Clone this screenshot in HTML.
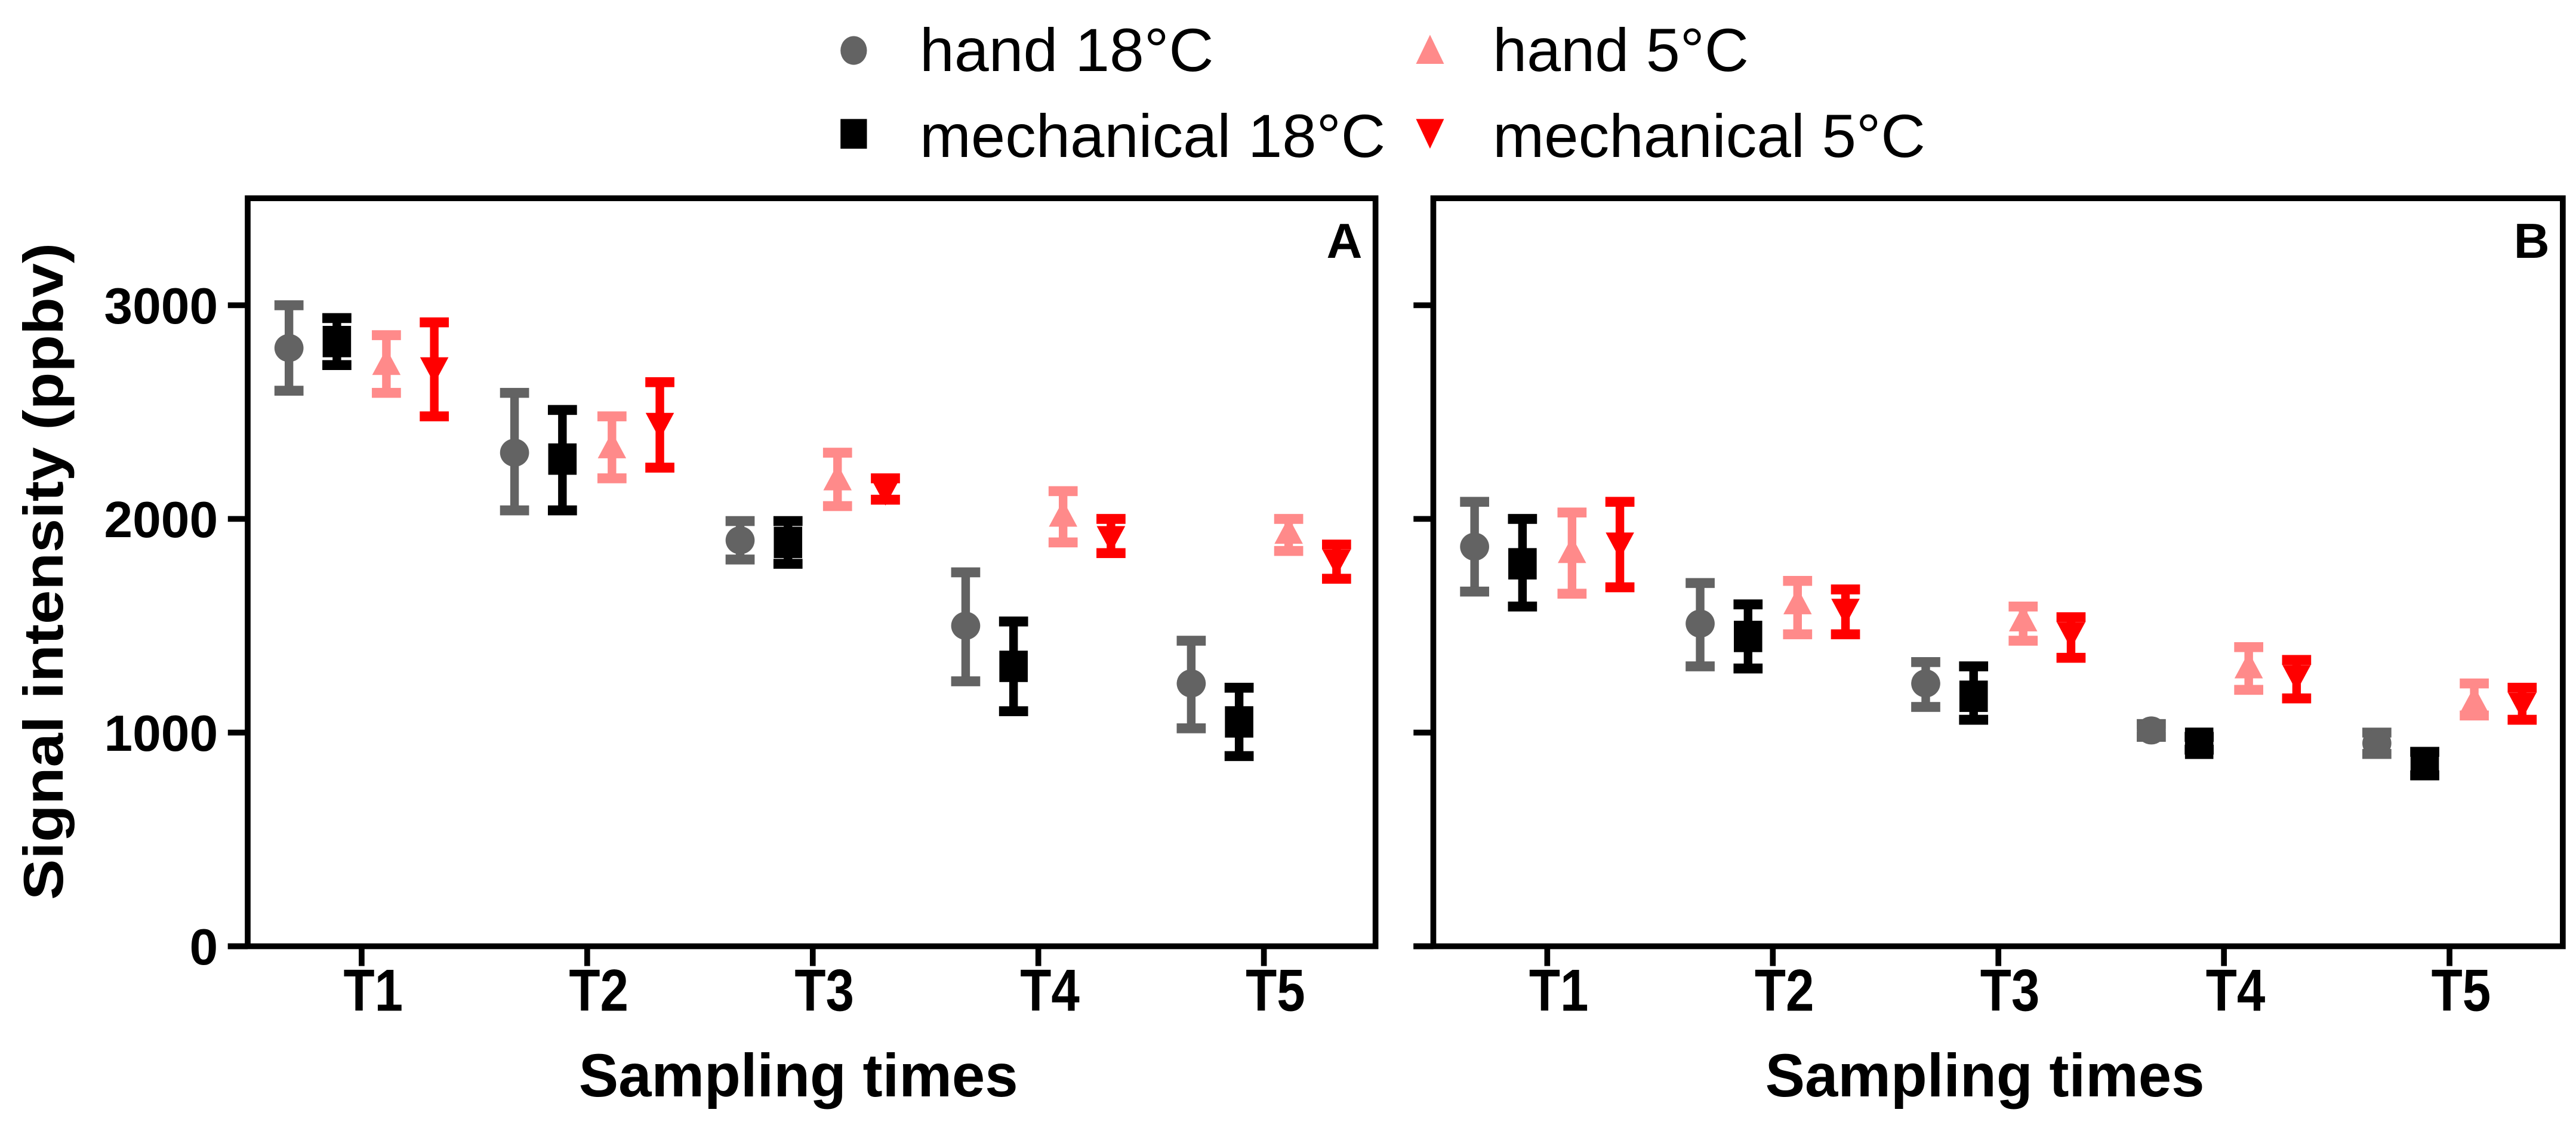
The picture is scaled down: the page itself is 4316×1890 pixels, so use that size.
<!DOCTYPE html>
<html><head><meta charset="utf-8"><style>
html,body{margin:0;padding:0;background:#fff;}
svg{display:block;font-family:"Liberation Sans",Arial,sans-serif;}
</style></head><body>
<svg id="chart" width="4316" height="1890" viewBox="0 0 1560 683">
  <g>
    <g>
      <ellipse cx="517" cy="30.5" rx="8" ry="8.7" fill="#636363"/>
      <text x="557" y="43" font-size="37" textLength="178" lengthAdjust="spacingAndGlyphs">hand 18°C</text>
    </g>
    <g>
      <rect x="509" y="72" width="16" height="18" fill="#000"/>
      <text x="557" y="95" font-size="37" textLength="282" lengthAdjust="spacingAndGlyphs">mechanical 18°C</text>
    </g>
    <g>
      <polygon points="866,21 874.5,38.6 857.5,38.6" fill="#ff8a8a"/>
      <text x="904" y="43" font-size="37" textLength="155" lengthAdjust="spacingAndGlyphs">hand 5°C</text>
    </g>
    <g>
      <polygon points="857.5,72 874.5,72 866,90" fill="#ff0000"/>
      <text x="904" y="95" font-size="37" textLength="262" lengthAdjust="spacingAndGlyphs">mechanical 5°C</text>
    </g>
  </g>
  <text transform="translate(38,346) rotate(-90)" text-anchor="middle" font-size="34" font-weight="bold" textLength="398" lengthAdjust="spacingAndGlyphs">Signal intensity (ppbv)</text>
  <g id="plots"></g>
</svg>
<script>
const categories = ["T1","T2","T3","T4","T5"];
const yTicks = [0,1000,2000,3000];
const seriesNames = ["hand 18°C","mechanical 18°C","hand 5°C","mechanical 5°C"];
// Panel A: mean, low, high
const aHand18 = [[2800,2600,3000],[2310,2040,2590],[1900,1810,1990],[1500,1240,1750],[1230,1020,1430]];
const aMech18 = [[2830,2720,2940],[2280,2040,2510],[1890,1790,1990],[1310,1100,1520],[1050,890,1210]];
const aHand5  = [[2720,2590,2860],[2330,2190,2480],[2180,2060,2310],[2010,1890,2130],[1930,1850,2000]];
const aMech5  = [[2710,2480,2920],[2450,2240,2640],[2140,2090,2190],[1920,1840,2000],[1810,1720,1880]];
// Panel B
const bHand18 = [[1870,1660,2080],[1510,1310,1700],[1230,1120,1330],[1010,980,1040],[950,900,1000]];
const bMech18 = [[1790,1590,2000],[1450,1300,1600],[1170,1060,1310],[950,920,980],[850,800,910]];
const bHand5  = [[1840,1650,2030],[1600,1460,1710],[1520,1430,1590],[1300,1200,1400],[1140,1080,1230]];
const bMech5  = [[1890,1680,2080],[1580,1460,1670],[1470,1350,1540],[1270,1160,1340],[1140,1060,1210]];

const NS="http://www.w3.org/2000/svg";
const root=document.getElementById('plots');
const colors=["#636363","#000000","#ff8a8a","#ff0000"];
const shapes=["circle","square","up","down"];
const offsets=[-44,-15,15,44];
function mk(tag,attrs,parent){const e=document.createElementNS(NS,tag);for(const k in attrs)e.setAttribute(k,attrs[k]);parent.appendChild(e);return e;}
const y0=573, yTop=120, per1000=129.4;
function yScale(v){return y0 - v/1000*per1000;}

function panel(left,right,letter,showLabels,data,key){
  const firstTick=left+69, step=136.6;
  function xScale(i){return firstTick+i*step;}
  const g=mk('g',{},root);
  
  
  const fr=mk('rect',{x:left,y:yTop,width:right-left,height:y0-yTop,fill:'none',stroke:'#000','stroke-width':3.5},g);
  
  
  const lt=mk('text',{x:right-8,y:yTop+36,'text-anchor':'end','font-size':30,'font-weight':'bold'},g);
  lt.textContent=letter;
  
  
  mk('line',{x1:left-12,x2:left,y1:y0,y2:y0,stroke:'#000','stroke-width':3.5},g);
  yTicks.forEach(t=>{
    const y=yScale(t);
    const tl=mk('line',{x1:left-12,x2:left,y1:y,y2:y,stroke:'#000','stroke-width':3.5},g);
    
    
    if(showLabels){
      const tx=mk('text',{x:left-18,y:y+11,'text-anchor':'end','font-size':31,'font-weight':'bold'},g);
      tx.textContent=t;
      
      
    }
  });
  categories.forEach((c,i)=>{
    const x=xScale(i);
    const tl=mk('line',{x1:x,x2:x,y1:y0,y2:y0+12,stroke:'#000','stroke-width':3.5},g);
    
    
    const tx=mk('text',{x:x+7,y:612,'text-anchor':'middle','font-size':36,'font-weight':'bold',textLength:36,lengthAdjust:'spacingAndGlyphs'},g);
    tx.textContent=c;
    
    
  });
  const xt=mk('text',{x:(left+right)/2-8,y:664,'text-anchor':'middle','font-size':37,'font-weight':'bold',textLength:266,lengthAdjust:'spacingAndGlyphs'},g);
  xt.textContent='Sampling times';
  
  
  data.forEach((ser,s)=>{
    const sg=mk('g',{},g);
    
    
    ser.forEach((d,i)=>{
      const x=xScale(i)+offsets[s], ym=yScale(d[0]), yl=yScale(d[1]), yh=yScale(d[2]);
      const col=colors[s];
      const eb=mk('g',{fill:col},sg);
      
      
      mk('rect',{x:x-2.6,y:yh,width:5.2,height:yl-yh},eb);
      mk('rect',{x:x-8.8,y:yh-3,width:17.6,height:6},eb);
      mk('rect',{x:x-8.8,y:yl-3,width:17.6,height:6},eb);
      let m;
      if(shapes[s]==='circle') m=mk('ellipse',{cx:x,cy:ym,rx:8.8,ry:8.5,fill:col},sg);
      else if(shapes[s]==='square') m=mk('rect',{x:x-8.6,y:ym-9.5,width:17.2,height:19,fill:col},sg);
      else if(shapes[s]==='up') m=mk('polygon',{points:`${x},${ym-10} ${x+8.6},${ym+6} ${x-8.6},${ym+6}`,fill:col},sg);
      else m=mk('polygon',{points:`${x-8.6},${ym-6} ${x+8.6},${ym-6} ${x},${ym+10}`,fill:col},sg);
      
      
    });
  });
}
panel(150,833,'A',true,[aHand18,aMech18,aHand5,aMech5],'a');
panel(868,1552,'B',false,[bHand18,bMech18,bHand5,bMech5],'b');
</script>
</body></html>
